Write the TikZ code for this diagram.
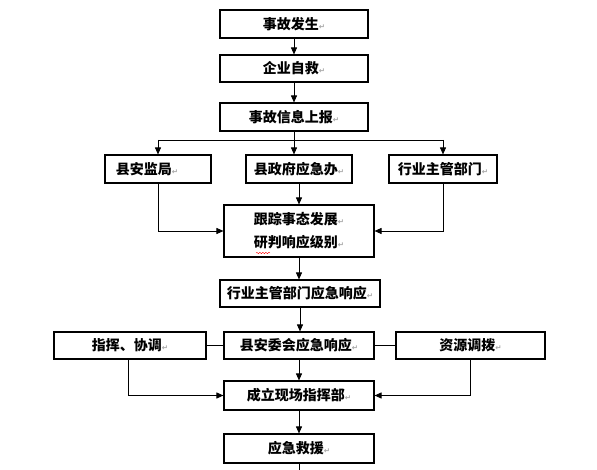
\documentclass[tikz,border=0pt]{standalone}
\usepackage{fontspec}
\usetikzlibrary{arrows.meta,decorations.pathmorphing}
\newfontfamily\cjk{Noto Sans CJK SC}
\newfontfamily\dejavu{DejaVu Sans}
\newcommand\rmark{{\dejavu\fontsize{7.5pt}{7.5pt}\selectfont\textcolor{black!35}{↵}}}
\begin{document}
\begin{tikzpicture}[x=1pt,y=-1pt,
  box/.style={draw, line width=1.1pt, rectangle, inner sep=0pt,
    font=\cjk\bfseries\fontsize{14pt}{23pt}\selectfont, align=center},
  arr/.style={line width=0.9pt, -{Triangle[length=7pt,width=6pt]}},
  ln/.style={line width=0.9pt}]
\useasboundingbox[fill=white] (0,0) rectangle (597,470);

\node[box, minimum width=148pt, minimum height=28pt] (b1) at (294,24) {事故发生\rmark};
\node[box, minimum width=148pt, minimum height=27pt] (b2) at (294,68.5) {企业自救\rmark};
\node[box, minimum width=148pt, minimum height=28pt] (b3) at (294,117) {事故信息上报\rmark};
\node[box, minimum width=106pt, minimum height=28pt] (b4) at (158,169) {县安监局\rmark\hspace*{22pt}};
\node[box, minimum width=106pt, minimum height=28pt] (b5) at (299,169) {县政府应急办\rmark};
\node[box, minimum width=108pt, minimum height=28pt] (b6) at (443,169) {行业主管部门\rmark};
\node[box, minimum width=150pt, minimum height=52pt] (b7) at (299,231) {跟踪事态发展\rmark\\研判响应级别\rmark};
\node[box, minimum width=160pt, minimum height=27pt] (b8) at (300,293.5) {行业主管部门应急响应\rmark};
\node[box, minimum width=150pt, minimum height=27pt] (b9) at (299,345.5) {县安委会应急响应\rmark};
\node[box, minimum width=152pt, minimum height=27pt] (b10) at (130,345.5) {指挥、协调\rmark};
\node[box, minimum width=149pt, minimum height=27pt] (b11) at (470.5,345.5) {资源调拨\rmark};
\node[box, minimum width=150pt, minimum height=29pt] (b12) at (299,395.5) {成立现场指挥部\rmark};
\node[box, minimum width=150pt, minimum height=29pt] (b13) at (299,448.5) {应急救援\rmark};

\coordinate (hl) at (294,140);
\coordinate (endpt) at (299,470);

\draw[arr] (b1) -- (b2);
\draw[arr] (b2) -- (b3);
\draw[arr] (b3.south) -- (b3.south |- b5.north);
\draw[ln] (b4.north |- hl) -- (b6.north |- hl);
\draw[arr] (b4.north |- hl) -- (b4.north);
\draw[arr] (b6.north |- hl) -- (b6.north);
\draw[arr] (b4.south) |- (b7.west);
\draw[arr] (b6.south) |- (b7.east);
\draw[arr] (b5) -- (b7);
\draw[arr] (b7.south) -- (b7.south |- b8.north);
\draw[arr] (b8.south) -- (b8.south |- b9.north);
\draw[ln] (b10.east) -- (b9.west);
\draw[ln] (b9.east) -- (b11.west);
\draw[arr] (b9) -- (b12);
\draw[arr] ([xshift=-2pt]b10.south) |- (b12.west);
\draw[arr] (b11.south) |- (b12.east);
\draw[arr] (b12) -- (b13);
\draw[ln] (b13.south) -- (endpt);

\draw[red, line width=0.4pt, decorate, decoration={snake, amplitude=0.7pt, segment length=3pt}] (256,253) -- (270,253);
\end{tikzpicture}
\end{document}
